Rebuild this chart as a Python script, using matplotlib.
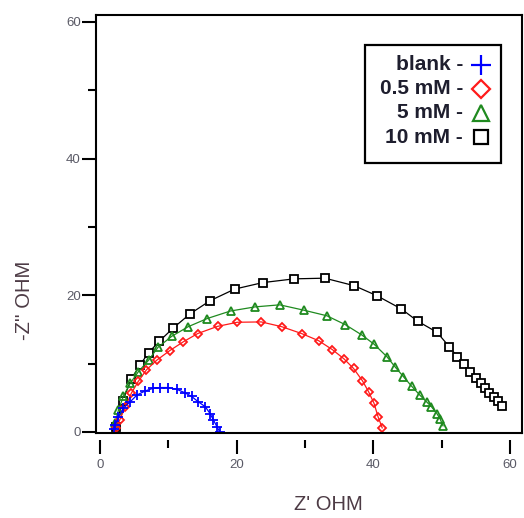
import matplotlib
matplotlib.use("Agg")
import matplotlib.pyplot as plt
from matplotlib.patches import Rectangle

# Nyquist data: Z' (real) and -Z'' (imaginary), ohm
blank_x = [2.1, 2.2, 2.7, 3.4, 4.4, 5.4, 6.6, 7.8, 8.8, 10.0, 11.2, 12.4, 13.4, 14.4, 15.4, 16.1, 16.6, 17.1, 17.5]
blank_y = [0.4, 1.0, 2.2, 3.5, 4.4, 5.4, 6.0, 6.4, 6.5, 6.5, 6.25, 5.75, 5.2, 4.4, 3.7, 2.7, 1.75, 0.8, 0.05]

mm05_x = [2.4, 2.9, 3.7, 4.6, 5.6, 6.8, 8.3, 10.2, 12.2, 14.3, 17.2, 20.1, 23.6, 26.6, 29.5, 32.0, 34.0, 35.7, 37.1, 38.4, 39.3, 40.1, 40.7, 41.3]
mm05_y = [0.55, 1.8, 3.7, 5.7, 7.4, 9.1, 10.5, 11.9, 13.2, 14.4, 15.45, 16.05, 16.1, 15.4, 14.4, 13.35, 12.05, 10.7, 9.3, 7.5, 5.9, 4.2, 2.2, 0.6]

mm5_x = [2.2, 2.7, 3.4, 4.4, 5.6, 7.1, 8.5, 10.5, 12.9, 15.7, 19.1, 22.7, 26.3, 29.9, 33.2, 35.9, 38.3, 40.1, 42.0, 43.2, 44.4, 45.6, 46.8, 47.8, 48.5, 49.3, 49.8, 50.2]
mm5_y = [1.3, 3.2, 5.2, 7.1, 8.8, 10.5, 12.4, 14.0, 15.4, 16.6, 17.7, 18.3, 18.6, 17.8, 17.0, 15.7, 14.2, 12.85, 11.0, 9.5, 8.1, 6.7, 5.4, 4.4, 3.7, 2.7, 1.85, 0.9]

mm10_x = [2.3, 3.3, 4.6, 5.85, 7.1, 8.7, 10.7, 13.2, 16.1, 19.7, 23.8, 28.4, 32.9, 37.2, 40.5, 44.1, 46.5, 49.3, 51.1, 52.3, 53.3, 54.1, 55.0, 55.8, 56.3, 57.0, 57.7, 58.3, 58.9]
mm10_y = [0.8, 4.5, 7.8, 9.8, 11.6, 13.3, 15.2, 17.3, 19.2, 20.9, 21.85, 22.4, 22.5, 21.4, 19.95, 18.0, 16.2, 14.6, 12.5, 11.0, 9.95, 8.8, 7.9, 7.1, 6.4, 5.7, 5.1, 4.6, 3.85]

labels = ["blank -", "0.5 mM -", "5 mM -", "10 mM -"]
x_ticks = [0, 20, 40, 60]
y_ticks = [0, 20, 40, 60]

sans = ["Liberation Sans", "DejaVu Sans"]
label_color = "#4d3b45"
tick_color = "#5a5a66"

fig = plt.figure(figsize=(5.24, 5.18), dpi=100)
ax = fig.add_axes([96 / 524, 1 - 433 / 518, 426 / 524, 418 / 518])
ax.set_xlim(-0.59, 61.76)
ax.set_ylim(-0.15, 61.0)

series = [
    (mm10_x, mm10_y, "s", "black", 5.3, dict(markerfacecolor="white")),
    (mm5_x, mm5_y, "^", "#1f8a1f", 5.2, dict(markerfacecolor="none")),
    (mm05_x, mm05_y, "D", "#ff1a1a", 3.6, dict(markerfacecolor="none")),
    (blank_x, blank_y, "+", "#0000ff", 6.5, dict()),
]
for xs, ys, mk, col, ms, extra in series:
    ax.plot(xs, ys, color=col, lw=0.9, marker=mk, ms=ms, mew=1.3,
            markeredgecolor=col, **extra)

# frame
for side in ("top", "right", "left"):
    ax.spines[side].set_linewidth(1.5)
ax.spines["bottom"].set_position(("outward", 5))
ax.spines["bottom"].set_visible(False)
ax.plot([0, 1], [0, 0], transform=ax.transAxes, color="black", lw=1.5,
        clip_on=False, solid_capstyle="projecting")

ax.set_xticks(x_ticks)
ax.set_yticks(y_ticks)
ax.set_xticks([10, 30, 50], minor=True)
ax.set_yticks([10, 30, 50], minor=True)
ax.tick_params(which="major", direction="out", length=10, width=1.5,
               labelsize=9.5, labelcolor=tick_color)
ax.tick_params(which="minor", direction="out", length=6, width=1.5)
ax.tick_params(axis="x", which="major", pad=4)
ax.tick_params(axis="y", which="major", pad=1)
for t in ax.get_xticklabels() + ax.get_yticklabels():
    t.set_fontfamily(sans)

ax.set_xlabel("Z' OHM", fontsize=14.5, color=label_color, family=sans)
ax.xaxis.set_label_coords(0.545, -0.172)
ax.xaxis.label.set_verticalalignment("center")
ax.set_ylabel("-Z'' OHM", fontsize=14.5, color=label_color, family=sans)
ax.yaxis.set_label_coords(-0.167, 0.318)
ax.yaxis.label.set_verticalalignment("center")

# legend block: right-aligned labels followed by the symbols
ax.add_patch(Rectangle((0.6315, 0.646), 0.3192, 0.2822, transform=ax.transAxes,
                       fill=True, facecolor="white", edgecolor="black", lw=1.6,
                       zorder=5))
rows_y = [0.8804, 0.8230, 0.7656, 0.7081]
leg_style = [
    ("+", "#0000ff", 15, dict()),
    ("D", "#ff1a1a", 9.5, dict(markerfacecolor="white")),
    ("^", "#1f8a1f", 12, dict(markerfacecolor="white")),
    ("s", "black", 10.5, dict(markerfacecolor="white")),
]
for lab, yy, (mk, col, ms, extra) in zip(labels, rows_y, leg_style):
    ax.text(0.8615, yy, lab, transform=ax.transAxes, ha="right", va="center",
            fontsize=15, fontweight="bold", color="#1e1e2e",
            family=sans, zorder=6)
    ax.plot([0.9038], [yy], transform=ax.transAxes, marker=mk, ms=ms, mew=1.6,
            color=col, markeredgecolor=col, clip_on=False, zorder=6, **extra)

fig.savefig("out.png", dpi=100)
